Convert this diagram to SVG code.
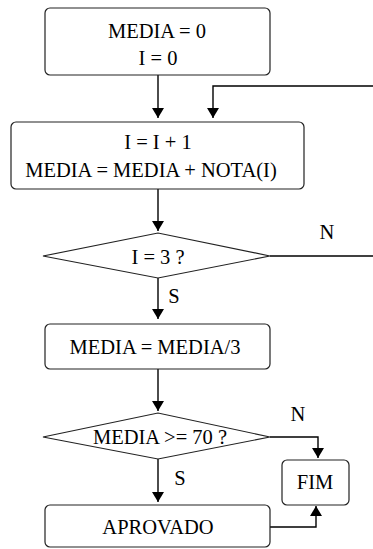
<svg xmlns="http://www.w3.org/2000/svg" width="373" height="549" viewBox="0 0 373 549">
<defs>
<style>
.box{fill:#fff;stroke:#222;stroke-width:1.2}
.ln{fill:none;stroke:#000;stroke-width:1.4}
.t{font-family:"Liberation Serif","Times New Roman",serif;font-size:20.5px;fill:#000;text-anchor:middle}
</style>
<marker id="ah" markerWidth="10" markerHeight="12" refX="10" refY="6" orient="auto" markerUnits="userSpaceOnUse" viewBox="0 0 10 12">
<path d="M0,0 L10,6 L0,12 Z" fill="#000"/>
</marker>
</defs>
<rect width="373" height="549" fill="#fff"/>
<g id="connectors">
<path class="ln" d="M158,75 V118" marker-end="url(#ah)"/>
<path class="ln" d="M373,86 H213 V118" marker-end="url(#ah)"/>
<path class="ln" d="M158,189 V231" marker-end="url(#ah)"/>
<path class="ln" d="M270,256 H373"/>
<path class="ln" d="M158,278 V319" marker-end="url(#ah)"/>
<path class="ln" d="M158,369 V411" marker-end="url(#ah)"/>
<path class="ln" d="M158,459 V502" marker-end="url(#ah)"/>
<path class="ln" d="M270,437 H318 V458" marker-end="url(#ah)"/>
<path class="ln" d="M270,527 H316 V506" marker-end="url(#ah)"/>
<text class="t" x="327" y="239">N</text>
<text class="t" x="174" y="303">S</text>
<text class="t" x="298" y="421">N</text>
<text class="t" x="180" y="485">S</text>
</g>
<g id="n1">
<rect class="box" x="45" y="8" width="225" height="67" rx="5"/>
<text class="t" x="157" y="38">MEDIA = 0</text>
<text class="t" x="158" y="65">I = 0</text>
</g>
<g id="n2">
<rect class="box" x="11" y="122" width="293" height="67" rx="5"/>
<text class="t" x="158" y="149">I = I + 1</text>
<text class="t" x="151" y="177">MEDIA = MEDIA + NOTA(I)</text>
</g>
<g id="n3">
<polygon class="box" points="43,256 158,233 270,256 158,278"/>
<text class="t" x="158" y="264">I = 3 ?</text>
</g>
<g id="n4">
<rect class="box" x="45" y="324" width="225" height="45" rx="5"/>
<text class="t" x="155" y="354">MEDIA = MEDIA/3</text>
</g>
<g id="n5">
<polygon class="box" points="43,437 158,413 270,437 158,459"/>
<text class="t" x="160" y="444">MEDIA &gt;= 70 ?</text>
</g>
<g id="n6">
<rect class="box" x="282" y="460" width="67" height="45" rx="5"/>
<text class="t" x="315" y="489">FIM</text>
</g>
<g id="n7">
<rect class="box" x="45" y="505" width="225" height="42" rx="5"/>
<text class="t" x="158" y="534">APROVADO</text>
</g>
</svg>
